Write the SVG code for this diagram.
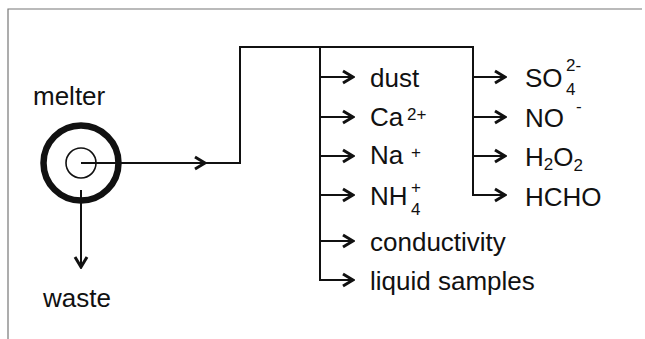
<svg xmlns="http://www.w3.org/2000/svg" width="645" height="339" viewBox="0 0 645 339">
<style>
.t{font-family:"Liberation Sans",Arial,sans-serif;font-size:26px;fill:#111}
.s{font-size:17px}
.ln{fill:none;stroke:#111;stroke-width:2}
.frame{fill:none;stroke:#777;stroke-width:1.2}
</style>
<defs>
<marker id="ar" markerUnits="userSpaceOnUse" viewBox="-13 -8 15 16" markerWidth="15" markerHeight="16" refX="0" refY="0" orient="auto">
<path d="M-10,-6 L0,0 L-10,6" fill="none" stroke="#111" stroke-width="3"/>
</marker>
</defs>
<rect width="645" height="339" fill="#fff"/>
<path class="frame" d="M8,339 V9 H642"/>
<g id="melter">
<circle cx="81" cy="163" r="37.5" fill="none" stroke="#111" stroke-width="6.5"/>
<circle cx="81" cy="163" r="15" fill="none" stroke="#111" stroke-width="1.6"/>
<text class="t" x="33" y="105">melter</text>
</g>
<g id="waste"><text class="t" x="43" y="307">waste</text></g>
<g id="connectors">
<line class="ln" x1="81" y1="163" x2="205" y2="163" marker-end="url(#ar)"/>
<path class="ln" d="M204,163 H240 V47 H473 V195 H505" marker-end="url(#ar)"/>
<path class="ln" d="M320,47 V280 H353" marker-end="url(#ar)"/>
<line class="ln" x1="81" y1="190" x2="81" y2="267" marker-end="url(#ar)"/>
<line class="ln" x1="320" y1="77" x2="353" y2="77" marker-end="url(#ar)"/>
<line class="ln" x1="320" y1="117" x2="353" y2="117" marker-end="url(#ar)"/>
<line class="ln" x1="320" y1="156" x2="353" y2="156" marker-end="url(#ar)"/>
<line class="ln" x1="320" y1="195" x2="353" y2="195" marker-end="url(#ar)"/>
<line class="ln" x1="320" y1="241" x2="353" y2="241" marker-end="url(#ar)"/>
<line class="ln" x1="473" y1="77" x2="505" y2="77" marker-end="url(#ar)"/>
<line class="ln" x1="473" y1="117" x2="505" y2="117" marker-end="url(#ar)"/>
<line class="ln" x1="473" y1="156" x2="505" y2="156" marker-end="url(#ar)"/>
</g>
<g id="dust"><text class="t" x="370" y="87">dust</text></g>
<g id="ca"><text class="t" x="370" y="126">Ca</text><text class="t s" x="407" y="120">2+</text></g>
<g id="na"><text class="t" x="370" y="164">Na</text><text class="t s" x="411" y="158">+</text></g>
<g id="nh4"><text class="t" x="370" y="205">NH</text><text class="t s" x="411" y="193">+</text><text class="t s" x="411" y="215">4</text></g>
<g id="conductivity"><text class="t" x="370" y="251">conductivity</text></g>
<g id="liquid"><text class="t" x="370" y="290">liquid samples</text></g>
<g id="so4"><text class="t" x="525" y="87">SO</text><text class="t s" x="566" y="95">4</text><text class="t s" x="566" y="71">2-</text></g>
<g id="no"><text class="t" x="525" y="127">NO</text><text class="t s" x="576" y="112">-</text></g>
<g id="h2o2"><text class="t" x="525" y="166">H<tspan class="s" dy="4">2</tspan><tspan dy="-4">O</tspan><tspan class="s" dy="5">2</tspan></text></g>
<g id="hcho"><text class="t" x="525" y="206">HCHO</text></g>
</svg>
